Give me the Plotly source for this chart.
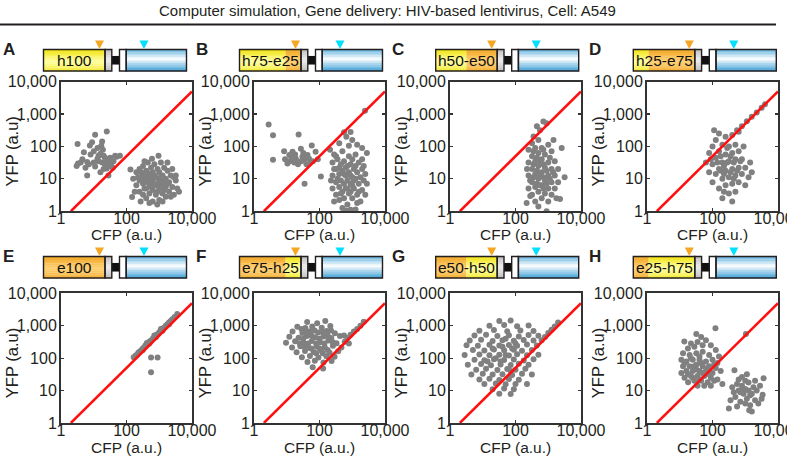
import plotly.graph_objects as go

W, H = 787, 457
TITLE = "Computer simulation, Gene delivery: HIV-based lentivirus, Cell: A549"
panel_letters = ["A", "B", "C", "D", "E", "F", "G", "H"]
construct_labels = ["h100", "h75-e25", "h50-e50", "h25-e75",
                    "e100", "e75-h25", "e50-h50", "e25-h75"]
construct_parts = [[("h", 1.0)], [("h", 0.75), ("e", 0.25)], [("h", 0.5), ("e", 0.5)],
                   [("h", 0.25), ("e", 0.75)], [("e", 1.0)], [("e", 0.75), ("h", 0.25)],
                   [("e", 0.5), ("h", 0.5)], [("e", 0.25), ("h", 0.75)]]
x_tickvals = [1, 100, 10000]
x_ticktext = ["1", "100", "10,000"]
y_tickvals = [1, 10, 100, 1000, 10000]
y_ticktext = ["1", "10", "100", "1,000", "10,000"]
x_title = "CFP (a.u.)"
y_title = "YFP (a.u)"
diag_cfp = [2, 10000]
diag_yfp = [1, 5000]

# (CFP, YFP) readings per panel
pts_A = [(3.2, 120), (5, 66), (7.6, 107), (8.9, 135), (11, 230), (25, 290), (18, 141), (17, 105),
         (3.3, 30), (4, 32), (3, 25), (6.3, 33), (7.1, 28), (10, 32), (11, 24), (13, 42), (14, 52),
         (16, 60), (20, 52), (22, 45), (25, 40), (28, 28), (32, 25), (35, 32), (50, 48), (63, 52),
         (16, 16), (28, 12.6), (6.3, 12.6), (22, 28), (18, 32), (8, 56), (40, 35), (20, 20), (10, 71),
         (14, 35), (32, 45), (25, 21), (4.5, 40), (13, 89), (19, 79), (38, 22), (45, 52), (5.6, 22),
         (160, 10), (200, 6.3), (200, 16), (250, 4), (250, 8.9), (250, 20), (320, 3.2), (320, 7.1),
         (320, 12.6), (320, 25), (400, 2.5), (400, 5), (400, 10), (400, 17.8), (450, 32), (500, 3.5),
         (500, 7.1), (500, 14), (560, 22), (630, 2), (630, 4.5), (630, 8.9), (630, 16), (710, 28),
         (790, 3.2), (790, 6.3), (790, 11), (890, 20), (1000, 2.2), (1000, 5), (1000, 8.9), (1000, 16),
         (1120, 32), (1260, 3.5), (1260, 7.1), (1260, 12.6), (1410, 22), (1580, 2.8), (1580, 5.6),
         (1580, 10), (1780, 17.8), (2000, 4), (2000, 7.9), (2240, 12.6), (2500, 5.6), (2800, 3.2),
         (3200, 8.9), (3550, 5), (950, 52), (600, 42), (132, 19.5), (148, 2.75), (270, 2), (870, 1.6),
         (3200, 12.6), (4000, 4), (224, 11.2), (355, 5), (450, 7.9), (560, 10), (710, 6.3), (890, 4),
         (1120, 6.3), (1410, 8.9), (280, 16), (355, 35), (1780, 32), (2500, 20), (500, 1.8), (1260, 2),
         (178, 4), (560, 5.6), (710, 12.6), (890, 7.1), (1120, 11.2), (450, 14), (1410, 4.5),
         (1780, 7.1), (355, 10), (2240, 2.8), (2800, 11.2)]

pts_B = [(2.8, 480), (3.8, 220), (3.8, 39), (23, 235), (8.3, 71), (15, 68), (12, 54), (17, 32),
         (10.5, 30), (27, 85), (30, 48), (43, 54), (58, 107), (76, 68), (35, 7.1), (110, 11.7),
         (54, 34), (21, 33), (12.6, 35), (19, 42), (22, 28), (28, 35), (35, 40), (40, 28), (48, 42),
         (63, 35), (89, 40), (14, 45), (18, 56), (32, 63), (8.9, 40),
         (560, 275), (660, 200), (790, 105), (210, 79), (400, 126), (1000, 158), (1410, 112),
         (2000, 89), (280, 56), (500, 71), (2800, 63), (2450, 1260), (890, 280),
         (250, 32), (250, 12.6), (250, 5), (280, 2), (320, 20), (320, 7.9), (320, 3.2), (355, 40),
         (400, 14), (400, 5.6), (400, 2.2), (450, 28), (450, 8.9), (500, 17.8), (500, 4), (500, 1.26),
         (560, 35), (560, 7.1), (560, 2.5), (630, 12.6), (630, 5), (710, 25), (710, 8.9), (710, 1.6),
         (790, 50), (790, 16), (790, 3.5), (890, 7.1), (890, 28), (1000, 11.2), (1000, 2.5), (1000, 40),
         (1120, 5), (1120, 20), (1260, 10), (1260, 1.12), (1260, 56), (1410, 3.2), (1410, 16),
         (1580, 7.1), (1580, 32), (1780, 11.2), (1780, 2), (2000, 4.5), (2000, 20), (2240, 8.9),
         (2500, 14), (2500, 3.2), (2800, 7.1), (355, 10), (450, 3.5), (560, 14), (630, 22), (890, 4),
         (1120, 8.9), (1260, 25), (1580, 4), (2240, 25), (710, 5), (890, 12.6), (1000, 6.3), (400, 22),
         (320, 50), (2000, 40), (224, 8.9), (280, 20), (1410, 1.8), (630, 1.05), (890, 1.1)]

pts_C = [(355, 204), (450, 417), (710, 590), (890, 525), (560, 316),
         (250, 79), (250, 32), (250, 12.6), (250, 5), (320, 126), (320, 50), (320, 20), (320, 7.9),
         (320, 3.2), (400, 89), (400, 35), (400, 14), (400, 5.6), (400, 2), (500, 158), (500, 63),
         (500, 25), (500, 10), (500, 4), (630, 89), (630, 40), (630, 16), (630, 6.3), (630, 2.5),
         (790, 56), (790, 22), (790, 8.9), (790, 3.5), (1000, 112), (1000, 32), (1000, 12.6), (1000, 5),
         (1000, 2), (1260, 71), (1260, 20), (1260, 7.9), (1260, 3.2), (1580, 35), (1580, 12.6),
         (1580, 5), (2000, 20), (2000, 7.9), (280, 8.9), (355, 28), (355, 11.2), (450, 17.8), (450, 7.1),
         (560, 35), (560, 14), (560, 6.3), (710, 28), (710, 11.2), (710, 5), (890, 17.8), (890, 7.1),
         (1120, 45), (1120, 10), (1410, 16), (224, 20), (2570, 89), (1450, 158), (2290, 2.4),
         (890, 1.0), (219, 1.8), (282, 2.95), (3160, 11.2), (450, 45), (710, 79), (355, 71),
         (1780, 2.5), (500, 1.4)]

pts_D = [(400, 224), (560, 316), (790, 417), (1120, 603), (1580, 832), (2240, 1120), (3160, 1580),
         (630, 282), (4000, 2000),
         (63, 32), (79, 16), (79, 63), (100, 7.9), (100, 28), (100, 100), (126, 14), (126, 45),
         (126, 158), (158, 5), (158, 20), (158, 71), (158, 251), (200, 10), (200, 32), (200, 112),
         (200, 2.5), (251, 17.8), (251, 56), (251, 200), (251, 6.3), (316, 11.2), (316, 35), (316, 100),
         (316, 3.5), (400, 20), (400, 63), (400, 7.1), (500, 12.6), (500, 40), (500, 112), (500, 4),
         (630, 22), (630, 7.9), (630, 71), (790, 14), (790, 40), (1000, 22), (1000, 6.3), (1260, 11.2),
         (1410, 32), (141, 32), (178, 50), (224, 25), (282, 89), (355, 16), (447, 32), (562, 17.8),
         (224, 14), (355, 50), (282, 32), (447, 10), (708, 35), (178, 17.8), (89, 40), (112, 316),
         (224, 4), (400, 2), (1580, 16), (890, 100)]

pts_E = [(166, 107), (191, 120), (209, 126), (229, 148), (251, 158), (282, 174), (316, 200),
         (339, 209), (372, 240), (398, 251), (437, 269), (479, 309), (525, 331), (562, 347),
         (631, 398), (692, 427), (759, 479), (832, 525), (912, 562), (1000, 631), (1096, 692),
         (1202, 759), (1318, 832), (1445, 891), (1585, 1000), (1778, 1122), (1995, 1259),
         (2239, 1413), (2512, 1585), (2951, 1862), (3548, 2291),
         (316, 178), (501, 282), (794, 447), (1259, 708), (1995, 1122), (417, 295), (708, 501),
         (1122, 794), (562, 105), (890, 105), (562, 37)]

pts_F = [(42, 1300), (85, 1200), (150, 1400), (21, 930), (37, 850), (60, 950), (117, 870), (214, 980),
         (15, 660), (30, 600), (52, 680), (91, 620), (166, 690), (295, 590), (12, 460), (23, 430),
         (41, 480), (74, 440), (132, 470), (229, 420), (420, 480), (9.5, 300), (18, 330), (33, 295),
         (58, 340), (105, 310), (186, 350), (330, 290), (590, 320), (14.5, 214), (26, 234), (46, 209),
         (81, 229), (145, 219), (257, 240), (468, 214), (20, 151), (36, 166), (66, 155), (115, 170),
         (204, 148), (372, 162), (29, 107), (51, 117), (93, 105), (162, 115), (288, 110), (43, 76),
         (72, 83), (132, 74), (234, 81), (62, 52), (129, 48),
         (32, 400), (56, 500), (100, 400), (178, 500), (45, 282), (79, 282), (141, 282), (251, 316),
         (25, 282), (56, 200), (100, 200), (178, 178), (40, 630), (71, 710), (126, 630), (79, 141),
         (126, 141), (35, 224), (224, 710), (28, 790),
         (710, 417), (890, 525), (1120, 660), (1410, 790), (1780, 1000), (2240, 1320), (790, 282),
         (560, 500)]

pts_G = [(32, 1400), (71, 1450), (16, 1000), (45, 1050), (112, 960), (251, 1020), (7.9, 700),
         (22, 740), (56, 680), (141, 720), (355, 690), (5.6, 500), (12.6, 530), (28, 480), (63, 510),
         (126, 470), (251, 520), (500, 490), (4, 350), (8.9, 370), (20, 340), (40, 360), (89, 345),
         (178, 365), (355, 350), (3.2, 250), (7.1, 240), (16, 260), (32, 245), (63, 255), (112, 240),
         (224, 262), (447, 248), (5, 180), (11.2, 172), (22, 185), (45, 175), (89, 182), (158, 170),
         (316, 180), (2.8, 125), (7.9, 130), (16, 122), (32, 128), (63, 120), (112, 132), (224, 124),
         (500, 128), (5.6, 90), (11.2, 86), (22, 93), (45, 87), (89, 91), (178, 85), (355, 92),
         (3.5, 62), (8.9, 66), (17.8, 60), (35, 64), (71, 61), (126, 67), (251, 62), (6.3, 44),
         (12.6, 47), (28, 43), (56, 46), (100, 44), (200, 47), (4.5, 31), (10, 33), (20, 31), (40, 32),
         (79, 30), (158, 33), (316, 31), (7.9, 22), (16, 23), (32, 21), (63, 22.5), (126, 21.5),
         (11.2, 16), (25, 16.5), (50, 15.5), (100, 16), (224, 15.8), (20, 11), (45, 11.5), (89, 11),
         (32, 8), (71, 7.8),
         (630, 355), (794, 447), (1000, 600), (1260, 760), (1580, 955), (2000, 1260),
         (25, 100), (50, 126), (40, 224), (79, 200), (20, 200), (35, 79), (71, 40), (14, 79),
         (100, 282), (50, 400)]

pts_H = [(13.8, 324), (123, 832), (32, 562), (45, 447), (22, 282), (63, 355), (35, 316), (89, 251),
         (17.8, 200), (28, 224), (50, 251), (126, 178), (12.6, 141), (20, 126), (32, 141), (50, 158),
         (79, 126), (158, 112), (11.2, 89), (16, 79), (25, 89), (40, 89), (63, 79), (100, 89),
         (141, 71), (12.6, 56), (20, 56), (32, 63), (50, 56), (79, 56), (126, 50), (178, 40),
         (11.2, 35), (16, 40), (25, 40), (40, 40), (63, 40), (100, 35), (14, 25), (22, 28), (35, 28),
         (56, 28), (89, 25), (141, 22), (18, 18), (28, 20), (45, 20), (71, 18), (112, 20), (35, 14),
         (56, 14), (200, 16), (89, 14), (28, 56), (45, 71), (18, 32), (32, 45), (71, 50), (50, 35),
         (25, 25), (40, 112), (22, 100), (40, 22), (79, 32), (112, 63), (14, 71),
         (316, 2.8), (1320, 2.45), (3630, 24), (3390, 7.4), (468, 42), (794, 26), (400, 12.6),
         (500, 6.3), (562, 16), (631, 10), (708, 4.5), (794, 14), (891, 7.9), (1000, 20), (1000, 11.2),
         (1122, 5.6), (1259, 10), (1259, 17.8), (1413, 3.5), (1585, 7.9), (1778, 12.6), (1995, 5),
         (2239, 10), (2512, 4), (2818, 14), (447, 8.9), (708, 8.9), (1122, 32), (1585, 2.24),
         (355, 5), (631, 22), (1000, 4), (891, 11.2), (1413, 7.1), (1995, 20), (3162, 5.6),
         (562, 3.2), (1050, 560)]

all_pts = [pts_A, pts_B, pts_C, pts_D, pts_E, pts_F, pts_G, pts_H]

# ---------------- geometry (pixels) ----------------
col_left = [61, 254, 450, 647]
row_top = [81.7, 293.4]
PW, PH = 131, 129.5
construct_left = [43.5, 239.5, 435.7, 633.3]
construct_top = [49.5, 256.5]
CW, CH = 143, 21.5
letter_y = [49.5, 256.5]
xtitle_gap = [23, 24.5]

FONT = "Liberation Sans, Arial, Helvetica, sans-serif"
INK = "#231f20"


def fx(px):
    return px / W


def fy(py):
    return 1 - py / H


def hex2rgb(h):
    return tuple(int(h[i:i + 2], 16) for i in (1, 3, 5))


def mix(c1, c2, w):
    a, b = hex2rgb(c1), hex2rgb(c2)
    return "rgb(%d,%d,%d)" % tuple(round(a[i] + (b[i] - a[i]) * w) for i in range(3))


COLORS = {
    "h": ("#efe000", "#ffffa8", 0.58, 0.62),
    "e": ("#eea21a", "#ffd27a", 0.58, 0.62),
    "blue": ("#3c9fd6", "#ffffff", 0.45, 0.55),
    "gray": ("#b5b5b5", "#eeeeee", 0.5, 0.6),
}

shapes = []
annotations = []


def band_rect(x0, x1, y0, y1, kind, nb=12):
    edge, mid, c, s = COLORS[kind]
    h = (y1 - y0) / nb
    for k in range(nb):
        t = (k + 0.5) / nb
        w = max(0.0, 1 - abs(t - c) / s)
        shapes.append(dict(type="rect", xref="paper", yref="paper",
                           x0=fx(x0), x1=fx(x1), y0=fy(y0 + k * h - 0.2), y1=fy(y0 + (k + 1) * h + 0.2),
                           fillcolor=mix(edge, mid, w), line=dict(width=0), layer="above"))


def outline(x0, x1, y0, y1, fill=None):
    shapes.append(dict(type="rect", xref="paper", yref="paper",
                       x0=fx(x0), x1=fx(x1), y0=fy(y1), y1=fy(y0),
                       fillcolor=fill if fill else "rgba(0,0,0,0)",
                       line=dict(width=1.4, color=INK), layer="above"))


def triangle(cx, ytop, color):
    path = "M %f,%f L %f,%f L %f,%f Z" % (fx(cx - 4.5), fy(ytop), fx(cx + 4.5), fy(ytop),
                                          fx(cx), fy(ytop + 8.5))
    shapes.append(dict(type="path", xref="paper", yref="paper", path=path,
                       fillcolor=color, line=dict(width=0), layer="above"))


fig = go.Figure()
axes = {}
for i, pts in enumerate(all_pts):
    r, c = divmod(i, 4)
    suf = "" if i == 0 else str(i + 1)
    fig.add_trace(go.Scatter(x=[p[0] for p in pts], y=[p[1] for p in pts], mode="markers",
                             marker=dict(color="#808080", size=6, line=dict(width=0)),
                             xaxis="x" + suf, yaxis="y" + suf, hoverinfo="skip", showlegend=False))
    fig.add_trace(go.Scatter(x=diag_cfp, y=diag_yfp, mode="lines",
                             line=dict(color="#ff1010", width=2.6),
                             xaxis="x" + suf, yaxis="y" + suf, hoverinfo="skip", showlegend=False))
    L, T = col_left[c], row_top[r]
    common = dict(type="log", range=[0, 4], ticks="inside", ticklen=3, tickwidth=1.2, tickcolor="#333",
                  showline=True, mirror="allticks", linecolor="#333333", linewidth=2,
                  showgrid=False, zeroline=False, fixedrange=True, automargin=False,
                  ticklabeloverflow="allow",
                  tickfont=dict(family=FONT, size=16, color=INK))
    axes["xaxis" + suf] = dict(common, domain=[fx(L), fx(L + PW)], anchor="y" + suf,
                               tickvals=x_tickvals, ticktext=x_ticktext, ticklabelstandoff=-8)
    axes["yaxis" + suf] = dict(common, domain=[fy(T + PH), fy(T)], anchor="x" + suf,
                               tickvals=y_tickvals, ticktext=y_ticktext, ticklabelstandoff=-1)

    # axis titles
    annotations.append(dict(xref="paper", yref="paper", x=fx(L + PW / 2), y=fy(T + PH + xtitle_gap[r]),
                            text=x_title, showarrow=False, xanchor="center", yanchor="middle",
                            font=dict(family=FONT, size=15.5, color=INK)))
    annotations.append(dict(xref="paper", yref="paper", x=fx(L - 49), y=fy(T + PH / 2 + 5),
                            text=y_title, showarrow=False, textangle=-90, xanchor="center",
                            yanchor="middle", font=dict(family=FONT, size=16.5, color=INK)))
    # panel letter
    annotations.append(dict(xref="paper", yref="paper", x=fx(L - 60), y=fy(letter_y[r]),
                            text="<b>%s</b>" % panel_letters[i], showarrow=False, xanchor="left",
                            yanchor="middle", font=dict(family=FONT, size=17, color=INK)))

    # construct diagram
    X0, Y0 = construct_left[c], construct_top[r]
    Y1 = Y0 + CH
    yel_end = X0 + 61.5
    gray_end = X0 + 68.3
    white0 = X0 + 76
    white1 = X0 + 82.7
    blue_end = X0 + CW
    xa = X0
    for kind, frac in construct_parts[i]:
        xb = xa + frac * 61.5
        band_rect(xa, xb, Y0, Y1, kind)
        xa = xb
    band_rect(yel_end, gray_end, Y0, Y1, "gray", nb=8)
    band_rect(white1, blue_end, Y0, Y1, "blue", nb=14)
    shapes.append(dict(type="rect", xref="paper", yref="paper", x0=fx(gray_end), x1=fx(white0),
                       y0=fy(Y0 + CH / 2 + 4.3), y1=fy(Y0 + CH / 2 - 4.3),
                       fillcolor="#111111", line=dict(width=0), layer="above"))
    outline(X0, yel_end, Y0, Y1)
    outline(yel_end, gray_end, Y0, Y1)
    outline(white0, white1, Y0, Y1, fill="#ffffff")
    outline(white1, blue_end, Y0, Y1)
    triangle(X0 + 56, Y0 - 9, "#f5a623")
    triangle(X0 + 100.5, Y0 - 9, "#00e0ff")
    annotations.append(dict(xref="paper", yref="paper", x=fx(X0 + 30.75), y=fy(Y0 + CH / 2 + 0.5),
                            text=construct_labels[i], showarrow=False, xanchor="center",
                            yanchor="middle", font=dict(family=FONT, size=15.5, color="#111111")))

# title and rule
annotations.append(dict(xref="paper", yref="paper", x=fx(387), y=fy(10), text=TITLE,
                        showarrow=False, xanchor="center", yanchor="middle",
                        font=dict(family="Liberation Sans Narrow, Arial Narrow, " + FONT, size=15,
                                  color=INK)))
shapes.append(dict(type="line", xref="paper", yref="paper", x0=0, x1=fx(776), y0=fy(24.5), y1=fy(24.5),
                   line=dict(color=INK, width=2.2)))

fig.update_layout(width=W, height=H, autosize=False, margin=dict(l=0, r=0, t=0, b=0, pad=0),
                  paper_bgcolor="white", plot_bgcolor="white", shapes=shapes,
                  annotations=annotations, **axes)
fig.write_html("out.html", config={"displayModeBar": False, "staticPlot": True},
               post_script="document.body.style.margin='0px';")
